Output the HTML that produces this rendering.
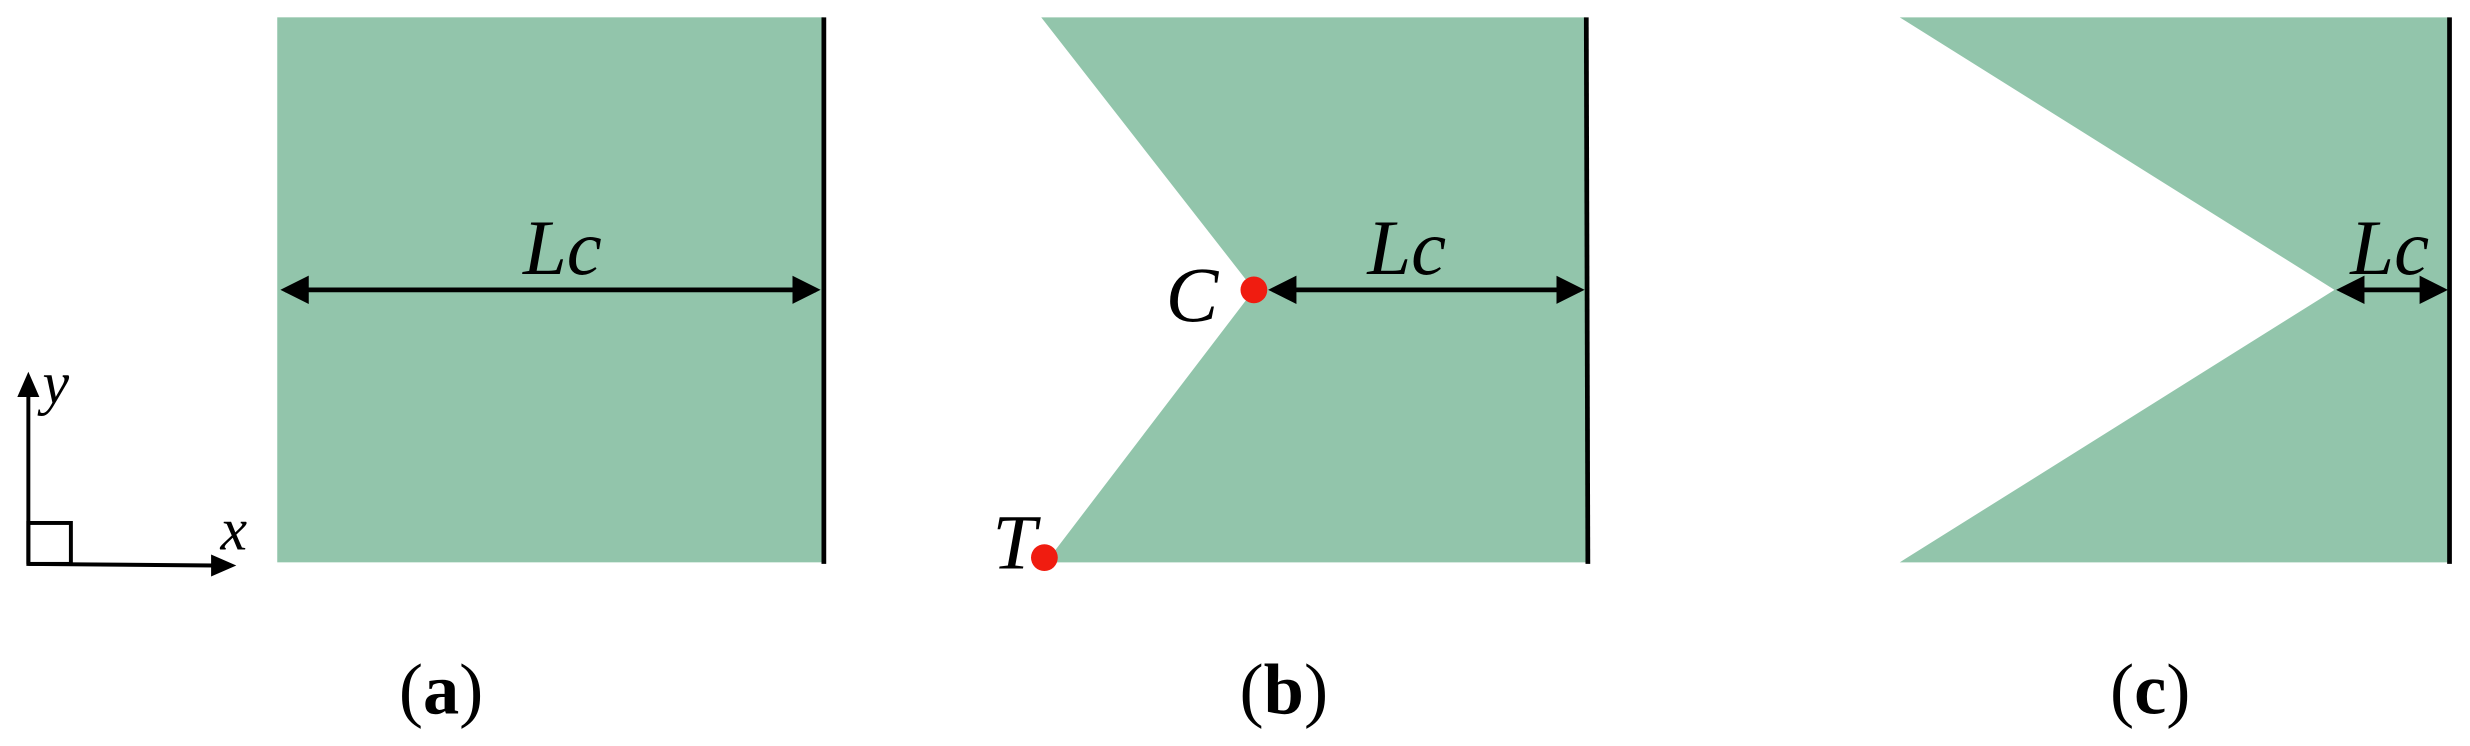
<!DOCTYPE html>
<html><head><style>html,body{margin:0;padding:0;background:#fff;}svg{display:block}</style></head>
<body>
<svg width="2470" height="746" viewBox="0 0 1568 473.6" preserveAspectRatio="none" xmlns="http://www.w3.org/2000/svg">
<defs>
<marker id="ah" markerWidth="6" markerHeight="6" refX="5" refY="3" orient="auto-start-reverse" markerUnits="strokeWidth"><path d="M0,0 L6,3 L0,6 z" fill="#000"/></marker>
</defs>
<g fill="#92c5ab">
<rect x="176" y="11" width="347" height="346"/>
<polygon points="661,11 1007,11 1008,357 664,357 796,184"/>
<polygon points="1206,11 1555,11 1555,357 1206,357 1482,184"/>
</g>
<g stroke="#000" stroke-width="3">
<line x1="523" y1="11" x2="523" y2="358"/>
<line x1="1007" y1="11" x2="1008" y2="358"/>
<line x1="1555" y1="11" x2="1555" y2="358"/>
</g>
<g stroke="#000" stroke-width="3" marker-start="url(#ah)" marker-end="url(#ah)">
<line x1="181" y1="184" x2="518" y2="184"/>
<line x1="808" y1="184" x2="1003" y2="184"/>
<line x1="1486" y1="184" x2="1551" y2="184"/>
</g>
<g stroke="#000" stroke-width="2.5" fill="none">
<line x1="18" y1="358" x2="18" y2="248"/>
<line x1="18" y1="358" x2="136" y2="359"/>
<rect x="18" y="332" width="27" height="26"/>
</g>
<polygon points="18,236 11,252 25,252" fill="#000"/>
<polygon points="150,359 134,352 134,366" fill="#000"/>
<circle cx="796" cy="184" r="8.5" fill="#f01c10"/>
<circle cx="663" cy="354" r="8.5" fill="#f01c10"/>
<g font-family="Liberation Serif, serif" font-style="italic" font-size="50" fill="#000">
<text x="332" y="174">Lc</text>
<text x="868" y="174">Lc</text>
<text x="1492" y="174">Lc</text>
<text x="740" y="204">C</text>
<text x="630" y="361">T</text>
<text x="27" y="256" font-size="38">y</text>
<text x="140" y="349" font-size="38">x</text>
</g>
<g font-family="Liberation Serif, serif" font-size="46" fill="#000">
<text x="280" y="453" text-anchor="middle">(<tspan font-weight="bold">a</tspan>)</text>
<text x="815" y="453" text-anchor="middle">(<tspan font-weight="bold">b</tspan>)</text>
<text x="1365" y="453" text-anchor="middle">(<tspan font-weight="bold">c</tspan>)</text>
</g>
</svg>
</body></html>
